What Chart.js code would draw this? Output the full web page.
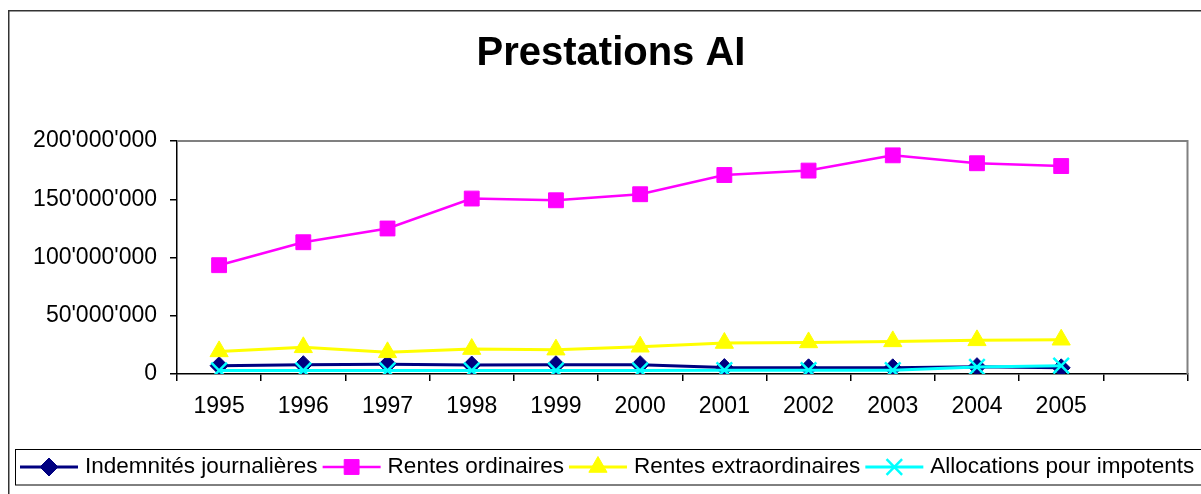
<!DOCTYPE html>
<html><head><meta charset="utf-8">
<script src="https://cdn.jsdelivr.net/npm/chart.js@4/dist/chart.umd.min.js"></script>
<style>html,body{margin:0;padding:0;background:#fff;overflow:hidden}canvas{display:block}</style>
</head><body>
<canvas id="c" width="1201" height="494"></canvas>
<script>
const categories = ['1995','1996','1997','1998','1999','2000','2001','2002','2003','2004','2005',''];
const indemnites = [7100000, 8000000, 8300000, 7700000, 8000000, 8000000, 5500000, 5300000, 5300000, 6300000, 5300000];
const rentesOrdinaires = [93400000, 113100000, 124900000, 150600000, 149100000, 154300000, 170800000, 174600000, 187700000, 180900000, 178500000];
const rentesExtra = [19400000, 22900000, 18600000, 21400000, 20900000, 23400000, 26600000, 27100000, 28000000, 28900000, 29400000];
const allocations = [3000000, 3000000, 3000000, 3000000, 3000000, 3000000, 3300000, 3300000, 3300000, 6000000, 7100000];
const seriesLabels = ['Indemnités journalières','Rentes ordinaires','Rentes extraordinaires','Allocations pour impotents'];
const titleText = 'Prestations AI';
const yMin = 0, yMax = 200000000, yStep = 50000000;

const FONT = '"Liberation Sans", Arial, Helvetica, sans-serif';

function fmt(v){ return String(Math.round(v)).replace(/\B(?=(\d{3})+(?!\d))/g, "'"); }

const decor = {
  id: 'decor',
  beforeDraw(chart){
    const ctx = chart.ctx;
    ctx.save();
    ctx.fillStyle = '#fff';
    ctx.fillRect(0,0,chart.width,chart.height);
    ctx.strokeStyle = '#333';
    ctx.lineWidth = 1.5;
    ctx.strokeRect(8.75, 10.75, 1300, 600);
    ctx.fillStyle = '#000';
    ctx.font = 'bold 40px ' + FONT;
    ctx.textAlign = 'center';
    ctx.textBaseline = 'middle';
    ctx.fillText(titleText, 611, 54);
    ctx.restore();
  },
  beforeDatasetsDraw(chart){
    const ctx = chart.ctx, a = chart.chartArea;
    ctx.save();
    ctx.strokeStyle = '#808080';
    ctx.lineWidth = 2;
    ctx.beginPath();
    ctx.moveTo(a.left, a.top);
    ctx.lineTo(a.right, a.top);
    ctx.lineTo(a.right, a.bottom);
    ctx.stroke();
    ctx.restore();
  },
  afterDraw(chart){
    const ctx = chart.ctx;
    ctx.save();
    ctx.strokeStyle = '#000';
    ctx.lineWidth = 1;
    ctx.strokeRect(15.5, 449.5, 1300, 35.5);
    ctx.font = '22.5px ' + FONT;
    ctx.textBaseline = 'middle';
    ctx.textAlign = 'left';
    let x = 20; const y = 467;
    chart.data.datasets.forEach(ds => {
      ctx.strokeStyle = ds.borderColor;
      ctx.lineWidth = ds.borderWidth;
      ctx.beginPath(); ctx.moveTo(x, y); ctx.lineTo(x + 58, y); ctx.stroke();
      ctx.fillStyle = ds.pointBackgroundColor;
      ctx.strokeStyle = ds.pointBorderColor;
      ctx.lineWidth = ds.pointBorderWidth;
      Chart.helpers.drawPoint(ctx, {pointStyle: ds.pointStyle, radius: ds.pointRadius, rotation: 0, borderWidth: ds.pointBorderWidth}, x + 29, y);
      ctx.fillStyle = '#000';
      ctx.fillText(ds.label, x + 65, y);
      x += 65 + ctx.measureText(ds.label).width + 5;
    });
    ctx.restore();
  }
};

function ds(label, data, color, style, radius, lw, order, pbw){
  return {label, data, borderColor: color, backgroundColor: color, borderWidth: lw,
    pointStyle: style, pointRadius: radius, pointHoverRadius: radius,
    pointBackgroundColor: color, pointBorderColor: color, pointBorderWidth: pbw,
    tension: 0, fill: false, order};
}

new Chart(document.getElementById('c'), {
  type: 'line',
  data: {
    labels: categories,
    datasets: [
      ds(seriesLabels[0], indemnites, '#000080', 'rectRot', 9, 3, 4, 1),
      ds(seriesLabels[1], rentesOrdinaires, '#FF00FF', 'rect', 10.5, 2.5, 3, 1),
      ds(seriesLabels[2], rentesExtra, '#FFFF00', 'triangle', 10.5, 3, 2, 1),
      ds(seriesLabels[3], allocations, '#00FFFF', 'crossRot', 11, 3, 1, 2.5)
    ]
  },
  options: {
    responsive: false,
    animation: false,
    devicePixelRatio: 1,
    layout: {padding: {top: 141, right: 8, bottom: 70, left: 0}},
    plugins: {legend: {display: false}, title: {display: false}, tooltip: {enabled: false}},
    scales: {
      x: {
        offset: true,
        grid: {offset: true, drawOnChartArea: false, drawTicks: true, tickLength: 7, color: '#000', lineWidth: 1.5},
        border: {display: true, color: '#000', width: 1.5},
        ticks: {color: '#000', font: {family: FONT, size: 23}, padding: 12, maxRotation: 0, autoSkip: false},
        afterFit(s){ s.height = 50; }
      },
      y: {
        min: yMin, max: yMax,
        grid: {drawOnChartArea: false, drawTicks: true, tickLength: 7, color: '#000', lineWidth: 1.5},
        border: {display: true, color: '#000', width: 1.5},
        ticks: {stepSize: yStep, color: '#000', font: {family: FONT, size: 23}, padding: 13, callback: v => fmt(v)},
        afterFit(s){ s.width = 177; }
      }
    }
  },
  plugins: [decor]
});
</script>
</body></html>
